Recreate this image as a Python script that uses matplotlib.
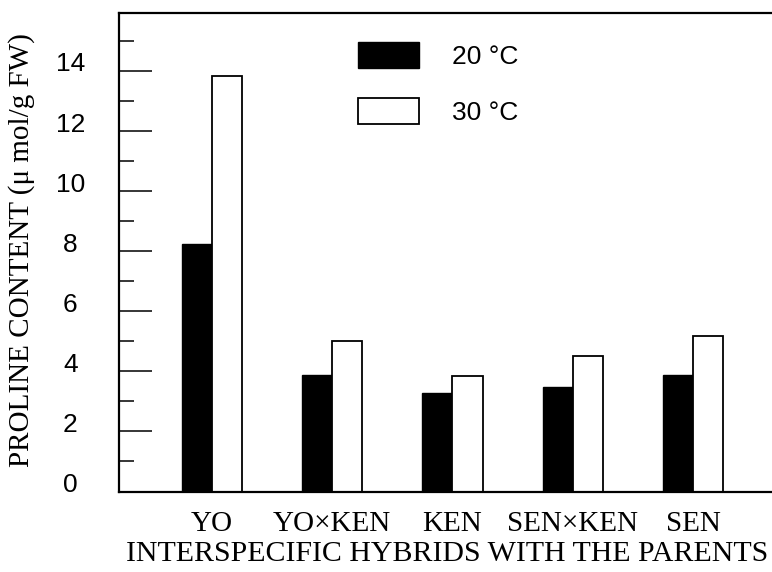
import numpy as np
import matplotlib
matplotlib.use("Agg")
import matplotlib.pyplot as plt
import matplotlib.transforms as mtransforms
from matplotlib.ticker import MultipleLocator

# Proline content per genotype
genotypes = ["YO", "YO×KEN", "KEN", "SEN×KEN", "SEN"]
proline_20c = [8.24, 3.88, 3.29, 3.49, 3.87]
proline_30c = [13.84, 5.01, 3.83, 4.51, 5.19]
series_labels = ["20 °C", "30 °C"]

serif = ["Liberation Serif", "DejaVu Serif"]
sans = ["Liberation Sans", "DejaVu Sans"]

fig = plt.figure(figsize=(7.72, 5.72), dpi=100)
ax = fig.add_axes([0.1541, 0.1407, 0.8459, 0.8366])

x = np.arange(len(genotypes))
w = 0.25
ax.bar(x - w / 2, proline_20c, width=w, color="black", edgecolor="black",
       linewidth=1.0, label=series_labels[0])
ax.bar(x + w / 2, proline_30c, width=w, color="white", edgecolor="black",
       linewidth=1.3, label=series_labels[1])

ax.set_xlim(-0.773, 4.657)
ax.set_ylim(0, 15.93)

# spines: left, top, bottom only (right edge is cut off in the original)
ax.spines["right"].set_visible(False)
for s in ["left", "top", "bottom"]:
    ax.spines[s].set_linewidth(1.6)

# y ticks pointing inward, minor ticks at odd values
ax.yaxis.set_major_locator(MultipleLocator(2))
ax.yaxis.set_minor_locator(MultipleLocator(1))
ax.set_yticks(np.arange(0, 15, 2))
ax.tick_params(axis="y", which="major", direction="in", length=24, width=1.1,
               pad=35, labelsize=19)
ax.tick_params(axis="y", which="minor", direction="in", length=11, width=1.1)
offset = mtransforms.ScaledTranslation(0, 6.5 / 72, fig.dpi_scale_trans)
for lab in ax.get_yticklabels():
    lab.set_fontfamily(sans)
    lab.set_horizontalalignment("center")
    lab.set_transform(lab.get_transform() + offset)

ax.set_xticks(x)
ax.set_xticklabels(genotypes, fontfamily=serif, fontsize=21)
ax.tick_params(axis="x", which="both", length=0, pad=14)

ax.set_xlabel("INTERSPECIFIC HYBRIDS WITH THE PARENTS", fontfamily=serif,
              fontsize=21.5)
ax.xaxis.set_label_coords(0.502, -0.103)
ax.set_ylabel("PROLINE CONTENT (μ mol/g FW)", fontfamily=serif, fontsize=21)
ax.yaxis.set_label_coords(-0.128, 0.505)

leg = ax.legend(loc="upper left", bbox_to_anchor=(0.366, 0.94), frameon=False,
                prop={"family": sans, "size": 19}, handlelength=2.3,
                handleheight=1.14, handletextpad=1.25, labelspacing=1.1,
                borderpad=0, borderaxespad=0)

fig.savefig("out.png", dpi=100)
